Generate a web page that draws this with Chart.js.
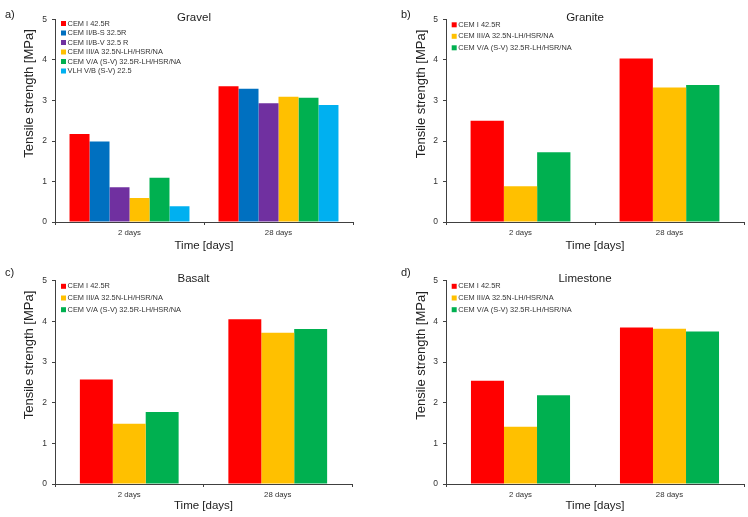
<!DOCTYPE html>
<html><head><meta charset="utf-8">
<script src="https://cdn.jsdelivr.net/npm/chart.js@4/dist/chart.umd.min.js"></script>
<style>
html,body{margin:0;padding:0;background:#fff;width:748px;height:517px;overflow:hidden}
canvas{position:absolute;display:block}
</style></head><body>
<canvas id="ca" width="374" height="258" style="left:0;top:0"></canvas>
<canvas id="cb" width="374" height="258" style="left:374px;top:0"></canvas>
<canvas id="cc" width="374" height="259" style="left:0;top:258px"></canvas>
<canvas id="cd" width="374" height="259" style="left:374px;top:258px"></canvas>
<script>
// ---- data ----
const categories = ['2 days', '28 days'];
const yTicks = [0, 1, 2, 3, 4, 5];
const yTitle = 'Tensile strength [MPa]';
const xTitle = 'Time [days]';

const gravelLabels = ['CEM I 42.5R', 'CEM II/B-S 32.5R', 'CEM II/B-V 32.5 R', 'CEM III/A 32.5N-LH/HSR/NA', 'CEM V/A (S-V) 32.5R-LH/HSR/NA', 'VLH V/B (S-V) 22.5'];
const gravelCemI = [2.17, 3.35];
const gravelCemIIBS = [1.99, 3.29];
const gravelCemIIBV = [0.86, 2.93];
const gravelCemIIIA = [0.59, 3.09];
const gravelCemVA = [1.09, 3.07];
const gravelVLH = [0.39, 2.89];

const threeLabels = ['CEM I 42.5R', 'CEM III/A 32.5N-LH/HSR/NA', 'CEM V/A (S-V) 32.5R-LH/HSR/NA'];
const graniteCemI = [2.50, 4.04];
const graniteCemIIIA = [0.88, 3.32];
const graniteCemVA = [1.72, 3.38];

const basaltCemI = [2.57, 4.05];
const basaltCemIIIA = [1.48, 3.72];
const basaltCemVA = [1.77, 3.81];

const limestoneCemI = [2.54, 3.85];
const limestoneCemIIIA = [1.41, 3.82];
const limestoneCemVA = [2.18, 3.75];

// ---- styling ----
const FONT = "'Liberation Sans', Arial, sans-serif";
const TXT = '#333333';
const AX = '#404040';
const C_RED = '#FF0000', C_BLUE = '#0070C0', C_PURPLE = '#7030A0', C_YEL = '#FFC000', C_GRN = '#00B050', C_CYAN = '#00B0F0';

const decor = {
  id: 'decor',
  afterDraw(chart, args, o) {
    const ctx = chart.ctx, ca = chart.chartArea;
    ctx.save();
    ctx.fillStyle = '#222';
    ctx.textBaseline = 'middle';
    ctx.textAlign = 'left';
    ctx.font = '11px ' + FONT;
    ctx.fillText(o.panel, o.panelX, o.panelY);
    ctx.textAlign = 'center';
    ctx.font = '11.5px ' + FONT;
    ctx.fillText(o.title, (ca.left + ca.right) / 2 - 10, o.titleY);
    // y axis title
    ctx.save();
    ctx.translate(o.yTitleX, o.yTitleY);
    ctx.rotate(-Math.PI / 2);
    ctx.font = '13px ' + FONT;
    ctx.fillText(yTitle, 0, 0);
    ctx.restore();
    // legend
    ctx.textAlign = 'left';
    ctx.font = '7.4px ' + FONT;
    chart.data.datasets.forEach((ds, i) => {
      const y = o.legY + i * o.legStep;
      ctx.fillStyle = ds.backgroundColor;
      ctx.fillRect(o.legX, y - 2.5, 5, 5);
      ctx.fillStyle = TXT;
      ctx.fillText(ds.label, o.legX + 6.6, y);
    });
    ctx.restore();
  }
};

function makeChart(id, labels, series, colors, pct, d) {
  const datasets = series.map((s, i) => ({
    label: labels[i], data: s, backgroundColor: colors[i], borderWidth: 0,
    barPercentage: 1, categoryPercentage: pct
  }));
  return new Chart(document.getElementById(id), {
    type: 'bar',
    data: { labels: categories, datasets },
    plugins: [decor],
    options: {
      responsive: false, animation: false,
      layout: { padding: { left: 0, right: d.padRight, top: d.top, bottom: 0 } },
      plugins: { legend: { display: false }, tooltip: { enabled: false }, decor: d },
      scales: {
        x: {
          grid: { display: true, drawOnChartArea: false, drawTicks: true, tickLength: 3, color: AX, offset: true },
          border: { display: true, color: AX, width: 1 },
          ticks: { color: TXT, font: { family: FONT, size: 7.8 }, padding: 3 },
          title: { display: true, text: xTitle, color: '#222', font: { family: FONT, size: 11.5 }, padding: { top: 0, bottom: d.xTitlePad } },
          afterFit(s) { s.height = d.xHeight; }
        },
        y: {
          min: 0, max: 5,
          afterBuildTicks(s) { s.ticks = yTicks.map(v => ({ value: v })); },
          grid: { display: true, drawOnChartArea: false, drawTicks: true, tickLength: 3, color: AX },
          border: { display: true, color: AX, width: 1 },
          ticks: { color: TXT, font: { family: FONT, size: 8.5 }, padding: 5 },
          title: { display: false },
          afterFit(s) { s.width = d.yWidth; }
        }
      }
    }
  });
}

makeChart('ca', gravelLabels,
  [gravelCemI, gravelCemIIBS, gravelCemIIBV, gravelCemIIIA, gravelCemVA, gravelVLH],
  [C_RED, C_BLUE, C_PURPLE, C_YEL, C_GRN, C_CYAN], 0.805,
  { panel: 'a)', panelX: 5, panelY: 15, title: 'Gravel', titleY: 17.5, legX: 61, legY: 23.5, legStep: 9.5,
    yTitleX: 29, yTitleY: 93.5,
    padRight: 21, top: 19.5, xHeight: 36, xTitlePad: 5, yWidth: 55 });

makeChart('cb', threeLabels,
  [graniteCemI, graniteCemIIIA, graniteCemVA],
  [C_RED, C_YEL, C_GRN], 0.67,
  { panel: 'b)', panelX: 27, panelY: 15, title: 'Granite', titleY: 17.5, legX: 77.7, legY: 24.8, legStep: 11.5,
    yTitleX: 47.7, yTitleY: 94,
    padRight: 4, top: 19.5, xHeight: 36, xTitlePad: 5, yWidth: 72 });

makeChart('cc', threeLabels,
  [basaltCemI, basaltCemIIIA, basaltCemVA],
  [C_RED, C_YEL, C_GRN], 0.665,
  { panel: 'c)', panelX: 5, panelY: 15, title: 'Basalt', titleY: 20.7, legX: 61, legY: 28.3, legStep: 11.7,
    yTitleX: 29, yTitleY: 97,
    padRight: 22, top: 22.7, xHeight: 33, xTitlePad: 3.8, yWidth: 55 });

makeChart('cd', threeLabels,
  [limestoneCemI, limestoneCemIIIA, limestoneCemVA],
  [C_RED, C_YEL, C_GRN], 0.665,
  { panel: 'd)', panelX: 27, panelY: 15, title: 'Limestone', titleY: 20.7, legX: 77.7, legY: 28.3, legStep: 11.7,
    yTitleX: 47.7, yTitleY: 97.5,
    padRight: 4, top: 22.7, xHeight: 33, xTitlePad: 3.8, yWidth: 72 });
</script>
</body></html>
